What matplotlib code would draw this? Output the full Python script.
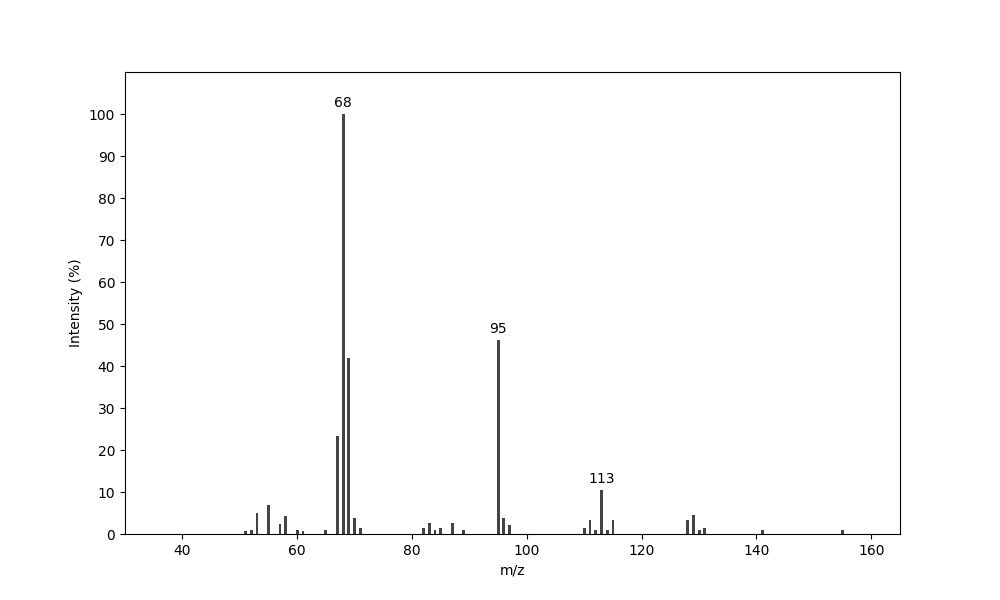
import matplotlib
matplotlib.use("Agg")
import matplotlib.pyplot as plt

mz = [51, 52, 53, 55, 57, 58, 60, 61, 65, 67, 68, 69, 70, 71,
      82, 83, 84, 85, 87, 89, 95, 96, 97,
      110, 111, 112, 113, 114, 115, 128, 129, 130, 131, 141, 155]
intensity = [0.7, 1.0, 5.0, 6.9, 2.4, 4.3, 1.0, 0.7, 1.0, 23.3, 100, 42.0, 3.8, 1.4,
             1.4, 2.6, 0.9, 1.4, 2.6, 0.9, 46.2, 3.8, 2.1,
             1.4, 3.3, 0.9, 10.5, 0.9, 3.3, 3.3, 4.5, 0.9, 1.4, 1.0, 1.0]
labeled = [68, 95, 113]

fig, ax = plt.subplots(figsize=(10, 6), dpi=100)
ax.bar(mz, intensity, width=0.5, color='#444444')

for m, v in zip(mz, intensity):
    if m in labeled:
        ax.text(m, v + 1, str(m), ha='center', va='bottom', fontsize=10)

ax.set_xlim(30, 165)
ax.set_ylim(0, 110)
ax.set_yticks(range(0, 101, 10))
ax.set_xlabel("m/z")
ax.set_ylabel("Intensity (%)")

fig.savefig("out.png")
